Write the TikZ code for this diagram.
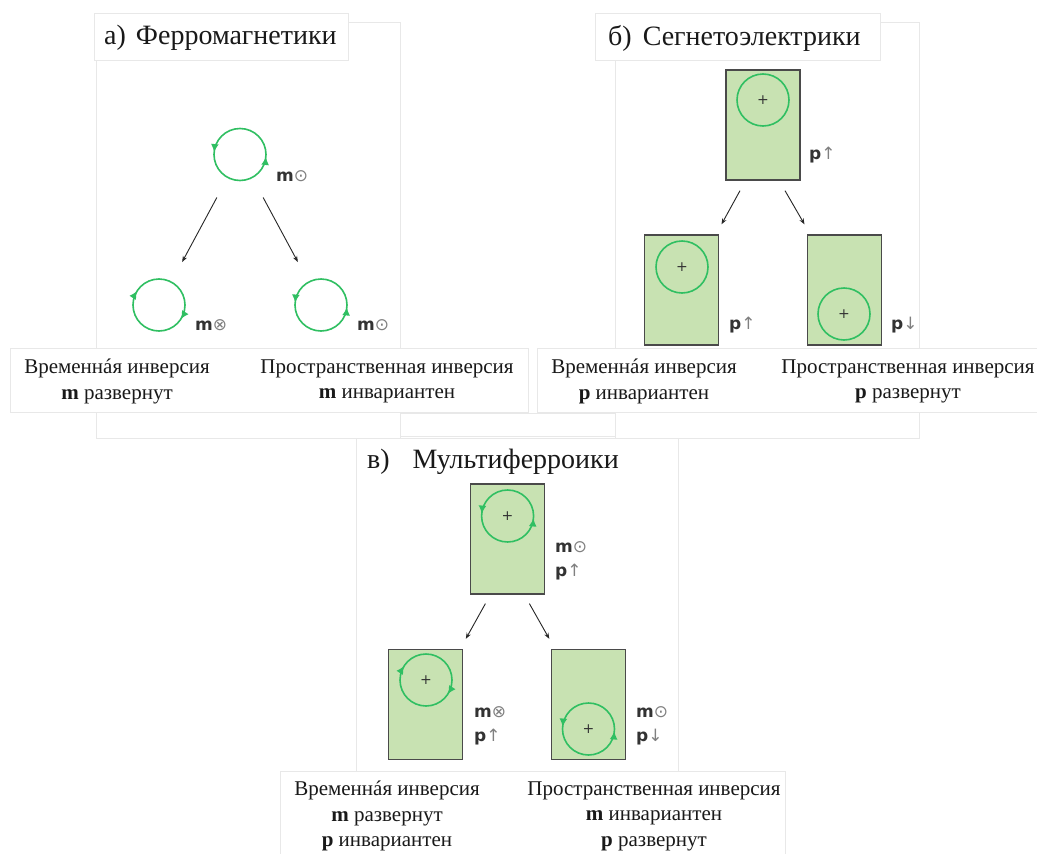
\documentclass[tikz,border=0pt]{standalone}
\usepackage{fontspec}
\setmainfont{Liberation Serif}
\newfontfamily\tagfont{DejaVu Sans}
\usetikzlibrary{positioning,calc,arrows.meta,decorations.markings}

\definecolor{cellfill}{HTML}{C8E2B2}
\definecolor{cellline}{HTML}{4A4A4A}
\definecolor{ringgreen}{HTML}{30BF62}
\definecolor{tagtext}{HTML}{333333}
\definecolor{symgray}{HTML}{808080}

\newcommand{\magOut}{{\bfseries m}{\color{symgray}⊙}}
\newcommand{\magIn}{{\bfseries m}{\color{symgray}⊗}}
\newcommand{\polUp}{{\bfseries p}{\color{symgray}↑}}
\newcommand{\polDown}{{\bfseries p}{\color{symgray}↓}}

\tikzset{
  sheet/.style={draw=black!9, fill=white, line width=0.8pt},
  cell/.style={draw=cellline, fill=cellfill, line width=1.3pt, minimum width=74pt, minimum height=110pt, inner sep=0pt},
  ring/.style={circle, draw=ringgreen, line width=1.6pt, minimum size=52pt, inner sep=0pt,
    font=\tagfont\fontsize{14}{14}\selectfont, text=black!80},
  spinout/.style={ring, postaction={decorate, decoration={markings,
      mark=at position 0.485 with {\arrow[ringgreen]{Latex[length=8pt,width=8pt]}},
      mark=at position 0.985 with {\arrow[ringgreen]{Latex[length=8pt,width=8pt]}}}}},
  spinin/.style={ring, postaction={decorate, decoration={markings,
      mark=at position 0.41 with {\arrowreversed[ringgreen]{Latex[length=8pt,width=8pt]}},
      mark=at position 0.91 with {\arrowreversed[ringgreen]{Latex[length=8pt,width=8pt]}}}}},
  conn/.style={-{Stealth[length=6pt,width=4.5pt]}, draw=black!85, line width=0.9pt},
  tag/.style={font=\tagfont\fontsize{17}{24}\selectfont, text=tagtext, anchor=west, align=left, inner sep=0pt},
  note/.style={font=\fontsize{21}{25.5}\selectfont, text=black!90, align=center, inner sep=0pt},
  heading/.style={font=\fontsize{28}{32}\selectfont, text=black!90, anchor=west, inner sep=0pt}
}

\begin{document}
\begin{tikzpicture}[x=1pt, y=-1pt]
    \useasboundingbox (0,0) rectangle (1037,854);

    % pasted sheets
    \draw[sheet] (96,22) rectangle (400,438);
    \draw[sheet] (615,22) rectangle (919,438);
    \draw[sheet] (400,413) rectangle (615,436);
    \draw[sheet] (94,13) rectangle (348,60);
    \draw[sheet] (595,13) rectangle (880,60);
    \draw[sheet] (10,348) rectangle (528,412);
    \draw[sheet] (537,348) rectangle (1045,412);
    \draw[sheet] (356,438) rectangle (678,771);
    \draw[sheet] (280,771) rectangle (785,860);

    % a) ferromagnets
    \node[heading] (ta) at (104,38) {а)\hspace{10pt}Ферромагнетики};
    \node[spinout] (a0) at (240,154.5) {};
    \node[spinin]  (a1) at (159,305) {};
    \node[spinout] (a2) at (321,305) {};
    \node[tag] (a0t) at (276,176) {\magOut};
    \node[tag] (a1t) at (195,325) {\magIn};
    \node[tag] (a2t) at (357,325) {\magOut};
    \draw[conn, shorten <=22pt, shorten >=22pt] (a0) -- (a1);
    \draw[conn, shorten <=22pt, shorten >=22pt] (a0) -- (a2);
    \node[note] (an1) at (117,381.5) {Временнáя инверсия\\\textbf{m} развернут};
    \node[note] (an2) at (387,381.5) {Пространственная инверсия\\\textbf{m} инвариантен};

    % b) ferroelectrics
    \node[heading] (tb) at (608,38) {б)\hspace{11pt}Сегнетоэлектрики};
    \node[cell] (b0) at (763,125) {};
    \node[cell] (b1) at (681.5,290) {};
    \node[cell] (b2) at (844.5,290) {};
    \node[ring] (b0r) at (763,100) {+};
    \node[ring] (b1r) at (682,267) {+};
    \node[ring] (b2r) at (844,314) {+};
    \node[tag] (b0t) at (809,155) {\polUp};
    \node[tag] (b1t) at (729,325) {\polUp};
    \node[tag] (b2t) at (891,325) {\polDown};
    \draw[conn] ([xshift=-23pt,yshift=-10pt]b0.south) -- ([xshift=40pt,yshift=10pt]b1.north);
    \draw[conn] ([xshift=22pt,yshift=-10pt]b0.south) -- ([xshift=-40pt,yshift=10pt]b2.north);
    \node[note] (bn1) at (644,381.5) {Временнáя инверсия\\\textbf{p} инвариантен};
    \node[note] (bn2) at (908,381.5) {Пространственная инверсия\\\textbf{p} развернут};

    % c) multiferroics
    \node[heading] (tc) at (367,462) {в)\hspace{23pt}Мультиферроики};
    \node[cell] (c0) at (507.4,539) {};
    \node[cell] (c1) at (425.8,704.5) {};
    \node[cell] (c2) at (588.3,704.5) {};
    \node[spinout] (c0r) at (507.6,516) {+};
    \node[spinin]  (c1r) at (426,680) {+};
    \node[spinout] (c2r) at (588.5,729) {+};
    \node[tag] (c0t) at (555,561) {\magOut\\\polUp};
    \node[tag] (c1t) at (474,726) {\magIn\\\polUp};
    \node[tag] (c2t) at (636,726) {\magOut\\\polDown};
    \draw[conn] ([xshift=-22pt,yshift=-9pt]c0.south) -- ([xshift=40pt,yshift=10pt]c1.north);
    \draw[conn] ([xshift=22pt,yshift=-9pt]c0.south) -- ([xshift=-39pt,yshift=10pt]c2.north);
    \node[note] (cn1) at (387,816) {Временнáя инверсия\\\textbf{m} развернут\\\textbf{p} инвариантен};
    \node[note] (cn2) at (654,816) {Пространственная инверсия\\\textbf{m} инвариантен\\\textbf{p} развернут};
\end{tikzpicture}
\end{document}
